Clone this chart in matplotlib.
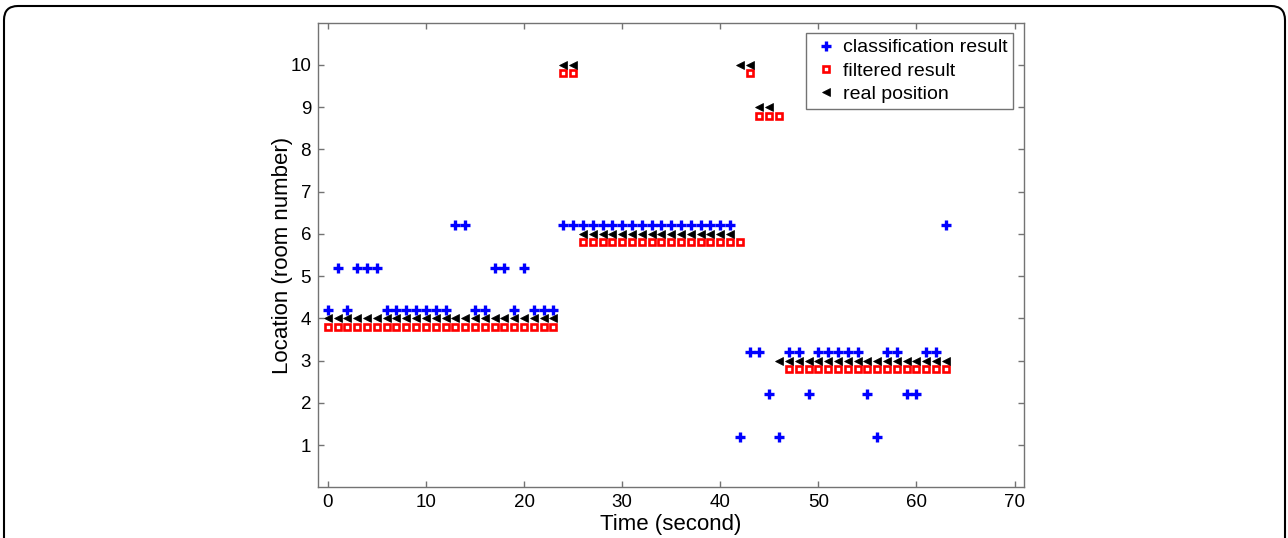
import numpy as np
import matplotlib
matplotlib.use("Agg")
import matplotlib.pyplot as plt
from matplotlib.patches import FancyBboxPatch
from matplotlib.transforms import IdentityTransform

plt.rcParams['font.family'] = ['Liberation Sans', 'DejaVu Sans']

# time stamps (seconds)
time_s = list(range(64))

# room number per second
classified = [4, 5, 4, 5, 5, 5, 4, 4, 4, 4, 4, 4, 4, 6, 6, 4,
              4, 5, 5, 4, 5, 4, 4, 4, 6, 6, 6, 6, 6, 6, 6, 6,
              6, 6, 6, 6, 6, 6, 6, 6, 6, 6, 1, 3, 3, 2, 1, 3,
              3, 2, 3, 3, 3, 3, 3, 2, 1, 3, 3, 2, 2, 3, 3, 6]
filtered = [4, 4, 4, 4, 4, 4, 4, 4, 4, 4, 4, 4, 4, 4, 4, 4,
            4, 4, 4, 4, 4, 4, 4, 4, 10, 10, 6, 6, 6, 6, 6, 6,
            6, 6, 6, 6, 6, 6, 6, 6, 6, 6, 6, 10, 9, 9, 9, 3,
            3, 3, 3, 3, 3, 3, 3, 3, 3, 3, 3, 3, 3, 3, 3, 3]
real = [4, 4, 4, 4, 4, 4, 4, 4, 4, 4, 4, 4, 4, 4, 4, 4,
        4, 4, 4, 4, 4, 4, 4, 4, 10, 10, 6, 6, 6, 6, 6, 6,
        6, 6, 6, 6, 6, 6, 6, 6, 6, 6, 10, 10, 9, 9, 3, 3,
        3, 3, 3, 3, 3, 3, 3, 3, 3, 3, 3, 3, 3, 3, 3, 3]

fig = plt.figure(figsize=(12.88, 5.38), dpi=100)
ax = fig.add_axes([0.2469, 0.0942, 0.5484, 0.8636])

# small vertical shifts so the three series don't sit on top of each other
t = np.array(time_s)
ax.plot(t, np.array(classified) + 0.2, '+', color='#0000ff', markersize=7,
        markeredgewidth=2.4, label='classification result')
ax.plot(t, np.array(filtered) - 0.2, 's', color='#ff0000', markerfacecolor='white',
        markersize=4.3, markeredgewidth=1.9, label='filtered result')
ax.plot(t, np.array(real), '<', color='black', markersize=5.8, markeredgewidth=0.5,
        label='real position', zorder=3)

ax.set_xlim(-1, 71)
ax.set_ylim(0, 11)
ax.set_xticks(range(0, 71, 10))
ax.set_yticks(range(1, 11))
ax.tick_params(direction='in', top=True, right=True, length=4, width=1,
               color='0.45', labelsize=13.5, pad=5)
for sp in ax.spines.values():
    sp.set_color('0.45')
    sp.set_linewidth(1)

ax.set_xlabel('Time (second)', fontsize=16, labelpad=2)
ax.set_ylabel('Location (room number)', fontsize=16, labelpad=-2)

leg = ax.legend(loc='upper right', bbox_to_anchor=(0.984, 0.978), borderaxespad=0,
                fancybox=False, edgecolor='0.45', fontsize=14, numpoints=1,
                handlelength=1.5, handletextpad=0.1, borderpad=0.3,
                labelspacing=0.3, framealpha=1)
leg.get_frame().set_linewidth(1)

# rounded outer border, open at the bottom
frame = FancyBboxPatch((4, -40), 1281, 572, boxstyle='round,pad=0,rounding_size=14',
                       transform=IdentityTransform(), fill=False,
                       edgecolor='black', linewidth=1.5)
fig.add_artist(frame)

fig.savefig('out.png', dpi=100)
